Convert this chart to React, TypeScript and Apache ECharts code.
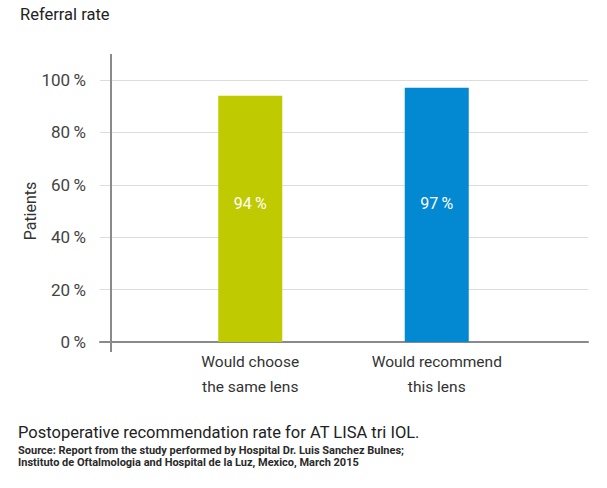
import React, { useEffect, useRef } from "react";
import * as echarts from "echarts";

const categories = ["Would choose\nthe same lens", "Would recommend\nthis lens"];
const values = [94, 97];
const barColors = ["#bfcb00", "#0388d2"];
const yTicks = { min: 0, max: 100, interval: 20 };

const FONT = "Roboto, 'Noto Sans', sans-serif";

export default function App() {
  const ref = useRef<HTMLDivElement>(null);
  useEffect(() => {
    const chart = echarts.init(ref.current!, null, { renderer: "svg" });
    chart.setOption({
      animation: false,
      backgroundColor: "#ffffff",
      textStyle: { fontFamily: FONT },
      title: [
        {
          text: "Referral rate",
          left: 20,
          top: 6,
          padding: 0,
          textStyle: { fontFamily: FONT, fontSize: 16.5, fontWeight: "normal", color: "#222" },
        },
        {
          text: "Postoperative recommendation rate for AT LISA tri IOL.",
          left: 18,
          top: 424,
          padding: 0,
          textStyle: { fontFamily: FONT, fontSize: 16.5, fontWeight: "normal", color: "#222" },
        },
        {
          text: "Source: Report from the study performed by Hospital Dr. Luis Sanchez Bulnes;",
          left: 18,
          top: 445,
          padding: 0,
          textStyle: { fontFamily: FONT, fontSize: 11, fontWeight: "bold", color: "#2a2a2a" },
        },
        {
          text: "Instituto de Oftalmologia and Hospital de la Luz, Mexico, March 2015",
          left: 18,
          top: 457,
          padding: 0,
          textStyle: { fontFamily: FONT, fontSize: 11, fontWeight: "bold", color: "#2a2a2a" },
        },
      ],
      grid: [
        { left: 100, right: 19, top: 80, bottom: 146 },
        { left: 157, right: 77, top: 80, bottom: 146 },
      ],
      xAxis: [
        {
          gridIndex: 0,
          type: "category",
          data: [""],
          axisLine: { show: true, lineStyle: { color: "#8a8a8a", width: 2 } },
          axisTick: { show: false },
          axisLabel: { show: false },
        },
        {
          gridIndex: 1,
          type: "category",
          data: categories,
          axisLine: { show: false },
          axisTick: { show: false },
          axisLabel: {
            fontFamily: FONT,
            fontSize: 15.5,
            color: "#333",
            lineHeight: 25,
            margin: 7,
          },
        },
      ],
      yAxis: [
        {
          gridIndex: 0,
          type: "value",
          min: yTicks.min,
          max: yTicks.max,
          interval: yTicks.interval,
          name: "Patients",
          nameLocation: "middle",
          nameGap: 62,
          nameMoveOverlap: false,
          nameTextStyle: { fontFamily: FONT, fontSize: 16, color: "#333" },
          axisLine: { show: false },
          axisTick: { show: false },
          axisLabel: {
            formatter: "{value}\u2009%",
            fontFamily: FONT,
            fontSize: 17,
            color: "#444",
            margin: 14,
          },
          splitLine: { lineStyle: { color: "#dcdcdc", width: 1 } },
        },
        {
          gridIndex: 1,
          type: "value",
          min: yTicks.min,
          max: yTicks.max,
          show: false,
          splitLine: { show: false },
        },
      ],
      series: [
        {
          type: "bar",
          xAxisIndex: 1,
          yAxisIndex: 1,
          barWidth: 64,
          data: values.map((v, i) => ({ value: v, itemStyle: { color: barColors[i] } })),
          label: {
            show: true,
            position: "insideBottom",
            distance: 131,
            formatter: "{c}\u2009%",
            fontFamily: FONT,
            fontSize: 16,
            color: "#ffffff",
          },
          z: 3,
        },
      ],
      graphic: [
        {
          type: "line",
          shape: { x1: 111, y1: 54, x2: 111, y2: 352 },
          style: { stroke: "#8a8a8a", lineWidth: 2 },
          z: 10,
        },
      ],
    });
    return () => chart.dispose();
  }, []);
  return (
    <div
      ref={ref}
      style={{ position: "absolute", left: 0, top: 0, width: 607, height: 488 }}
    />
  );
}
